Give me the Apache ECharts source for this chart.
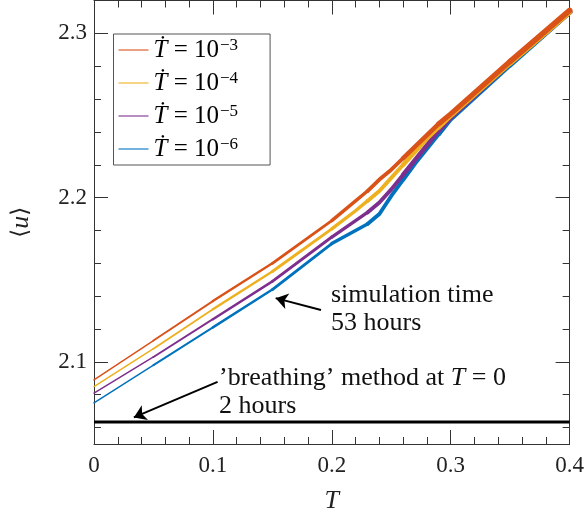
<!DOCTYPE html>
<html>
<head>
<meta charset="utf-8">
<script src="https://cdn.jsdelivr.net/npm/echarts@6/dist/echarts.min.js"></script>
<style>
html,body{margin:0;padding:0;background:#fff;}
#chart{width:587px;height:519px;}
</style>
</head>
<body>
<div id="chart"></div>
<script>
// ---- data ----
const T = [0, 0.05, 0.1, 0.15, 0.2, 0.22, 0.23, 0.24, 0.25, 0.26, 0.27, 0.28, 0.29, 0.3, 0.35, 0.4];
const u_1e3 = [2.089, 2.113, 2.137, 2.160, 2.186, 2.198, 2.204, 2.211, 2.217, 2.224, 2.231, 2.238, 2.245, 2.251, 2.283, 2.314];
const u_1e4 = [2.085, 2.108, 2.132, 2.155, 2.181, 2.192, 2.198, 2.204, 2.212, 2.220, 2.228, 2.236, 2.243, 2.250, 2.282, 2.313];
const u_1e5 = [2.081, 2.103, 2.126, 2.149, 2.176, 2.186, 2.191, 2.197, 2.205, 2.214, 2.223, 2.232, 2.241, 2.249, 2.282, 2.313];
const u_1e6 = [2.075, 2.098, 2.121, 2.144, 2.172, 2.180, 2.184, 2.190, 2.201, 2.211, 2.221, 2.230, 2.239, 2.248, 2.281, 2.313];
const breathingT = [0, 0.4];
const breathingU = [2.0634, 2.0634];
const seriesNames = ['1e-3', '1e-4', '1e-5', '1e-6'];
const seriesExp = ['3', '4', '5', '6'];
const seriesValues = [u_1e3, u_1e4, u_1e5, u_1e6];
const xTicksMajor = [0, 0.1, 0.2, 0.3, 0.4];
const yTicksMajor = [2.1, 2.2, 2.3];
const yTicksMinor = [2.06, 2.08, 2.10, 2.12, 2.14, 2.16, 2.18, 2.20, 2.22, 2.24, 2.26, 2.28, 2.30];
// ---------------------------------------

const colors = ['#D95319', '#EDB120', '#7E2F8E', '#0072BD'];
const FONT = "'Liberation Serif', 'DejaVu Serif', serif";
const AX = '#333333';

function pairs(xs, ys, from, to) {
  const out = [];
  for (let i = 0; i < xs.length; i++) {
    if (xs[i] >= from - 1e-9 && xs[i] <= to + 1e-9) out.push([xs[i], ys[i]]);
  }
  return out;
}

// segments with gradually increasing width to mimic the growing noise band
const segs = [[0, 0.05, 1.5], [0.05, 0.1, 1.9], [0.1, 0.15, 2.4], [0.15, 0.2, 2.9],
              [0.2, 0.23, 3.4], [0.23, 0.26, 3.9], [0.26, 0.29, 4.5], [0.29, 0.35, 5.1], [0.35, 0.4, 5.6]];
const series = [];
for (let k = 3; k >= 0; k--) {
  segs.forEach(s => {
    series.push({
      name: seriesNames[k],
      type: 'line',
      xAxisIndex: 0, yAxisIndex: 0,
      data: pairs(T, seriesValues[k], s[0], s[1]),
      symbol: 'none',
      color: colors[k],
      lineStyle: {width: s[2], color: colors[k], join: 'round', cap: 'round'},
      silent: true,
      z: 3
    });
  });
}
series.push({
  name: 'breathing',
  type: 'line',
  xAxisIndex: 0, yAxisIndex: 0,
  data: breathingT.map((t, i) => [t, breathingU[i]]),
  symbol: 'none',
  lineStyle: {width: 3, color: '#000'},
  silent: true,
  z: 4,
  markLine: {
    silent: true,
    symbol: ['none', 'arrow'],
    symbolSize: 12,
    lineStyle: {color: '#000', width: 2, type: 'solid'},
    itemStyle: {color: '#000'},
    label: {show: false},
    emphasis: {disabled: true},
    data: [
      [{coord: [0.1909, 2.1316]}, {coord: [0.1528, 2.1388]}],
      [{coord: [0.1039, 2.0878]}, {coord: [0.0335, 2.0662]}]
    ]
  }
});

const yMin = 2.05, yMax = 2.32;

const option = {
  animation: false,
  backgroundColor: '#fff',
  grid: {left: 87.5, right: 16.5, top: 0.5, bottom: 68.5, containLabel: false},
  legend: {
    orient: 'vertical',
    left: 113.5, top: 34,
    data: seriesNames,
    icon: 'rect',
    padding: [3, 32, 2, 5],
    itemWidth: 30, itemHeight: 2, itemGap: 6,
    backgroundColor: '#fff',
    borderColor: '#555', borderWidth: 1,
    itemStyle: {opacity: 0.55},
    formatter: function (name) {
      const i = seriesNames.indexOf(name);
      return '{t|Ṫ}{n| = 10}{s|−' + seriesExp[i] + '}';
    },
    textStyle: {
      fontFamily: FONT, fontSize: 24, color: '#000', lineHeight: 26,
      rich: {
        t: {fontFamily: FONT, fontStyle: 'italic', fontSize: 25, lineHeight: 26},
        n: {fontFamily: FONT, fontSize: 25, lineHeight: 26},
        s: {fontFamily: FONT, fontSize: 17, lineHeight: 26, verticalAlign: 'top', padding: [0, 0, 10, 1]}
      }
    }
  },
  xAxis: [
    {
      type: 'value', min: 0, max: 0.4, interval: 0.1, position: 'bottom',
      name: 'T', nameLocation: 'middle', nameGap: 44,
      nameTextStyle: {fontFamily: FONT, fontStyle: 'italic', fontSize: 26, color: '#222'},
      axisLine: {show: true, lineStyle: {color: AX, width: 1}},
      axisTick: {show: true, inside: true, length: 14, lineStyle: {color: AX}, customValues: xTicksMajor},
      minorTick: {show: true, splitNumber: 5, length: 7, lineStyle: {color: AX}},
      axisLabel: {fontFamily: FONT, fontSize: 23, color: '#222', margin: 10, customValues: xTicksMajor,
        formatter: v => (v === 0 ? '0' : String(+v.toFixed(1)))},
      splitLine: {show: false}
    },
    {
      type: 'value', min: 0, max: 0.4, interval: 0.1, position: 'top',
      axisLine: {show: true, lineStyle: {color: AX, width: 1}},
      axisTick: {show: true, inside: true, length: 14, lineStyle: {color: AX}},
      minorTick: {show: true, splitNumber: 5, length: 7, lineStyle: {color: AX}},
      axisLabel: {show: false},
      splitLine: {show: false}
    }
  ],
  yAxis: [
    {
      type: 'value', min: yMin, max: yMax, position: 'left',
      name: '{a|⟨}{b|u}{a|⟩}', nameLocation: 'middle', nameGap: 60, nameRotate: 90,
      nameTextStyle: {
        fontFamily: FONT, fontSize: 26, color: '#222',
        rich: {a: {fontFamily: "'DejaVu Serif', serif", fontSize: 23, color: '#222'},
               b: {fontFamily: FONT, fontStyle: 'italic', fontSize: 26, color: '#222'}}
      },
      axisLine: {show: true, lineStyle: {color: AX, width: 1}},
      axisTick: {show: true, inside: true, length: 14, lineStyle: {color: AX}, customValues: yTicksMajor},
      axisLabel: {fontFamily: FONT, fontSize: 23, color: '#222', margin: 7, customValues: yTicksMajor,
        formatter: v => v.toFixed(1)},
      splitLine: {show: false}
    },
    {
      type: 'value', min: yMin, max: yMax, position: 'left',
      axisLine: {show: false},
      axisTick: {show: true, inside: true, length: 7, lineStyle: {color: AX}, customValues: yTicksMinor},
      axisLabel: {show: false, customValues: yTicksMinor},
      splitLine: {show: false}
    },
    {
      type: 'value', min: yMin, max: yMax, position: 'right',
      axisLine: {show: true, lineStyle: {color: AX, width: 1}},
      axisTick: {show: true, inside: true, length: 14, lineStyle: {color: AX}, customValues: yTicksMajor},
      axisLabel: {show: false, customValues: yTicksMajor},
      splitLine: {show: false}
    },
    {
      type: 'value', min: yMin, max: yMax, position: 'right',
      axisLine: {show: false},
      axisTick: {show: true, inside: true, length: 7, lineStyle: {color: AX}, customValues: yTicksMinor},
      axisLabel: {show: false, customValues: yTicksMinor},
      splitLine: {show: false}
    }
  ],
  graphic: [
    {type: 'text', left: 331, top: 281, style: {text: 'simulation time\n53 hours', fontFamily: FONT, fontSize: 26, lineHeight: 28, fill: '#111'}},
    {type: 'text', left: 219, top: 364, style: {text: '\u2019breathing\u2019 method at {i|T} = 0\n2 hours', fontFamily: FONT, fontSize: 26, lineHeight: 28, fill: '#111',
      rich: {i: {fontFamily: FONT, fontStyle: 'italic', fontSize: 26, fill: '#111'}}}}
  ],
  series: series
};

const chart = echarts.init(document.getElementById('chart'), null, {renderer: 'canvas'});
chart.setOption(option);
</script>
</body>
</html>
